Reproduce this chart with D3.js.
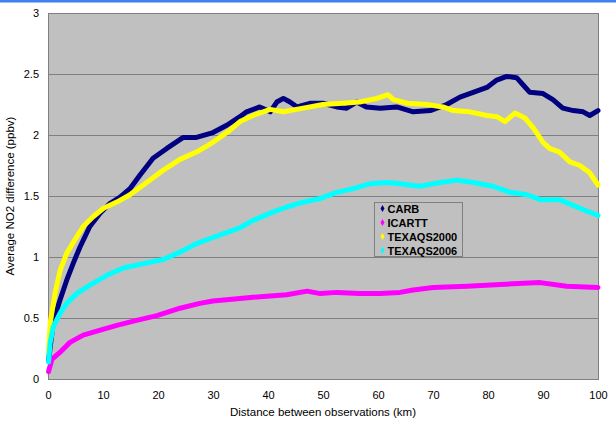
<!DOCTYPE html>
<html>
<head>
<meta charset="utf-8">
<script src="https://cdn.jsdelivr.net/npm/d3@7"></script>
<style>
  html, body { margin: 0; padding: 0; background: #ffffff; }
  svg { display: block; font-family: "Liberation Sans", Arial, sans-serif; }
</style>
</head>
<body>
<svg id="chart" width="616" height="431"></svg>
<script>
// Distance between observations (km) and average NO2 difference (ppbv) per campaign
const carbKm  = [0.1, 0.5, 1, 2.2, 3.4, 4.6, 5.8, 7.6, 9.5, 11.3, 13.1, 14.9, 16.7, 19.1, 21.6, 24.6, 27, 30, 32.5, 34.9, 36.1, 38.5, 40.4, 41.6, 42.8, 44, 45.3, 47.6, 50, 52.5, 54.3, 56.1, 57.9, 60.4, 63.4, 66.4, 69.5, 72.5, 74.9, 77.3, 79.8, 81.6, 83.4, 85.2, 86.4, 87.6, 90, 91.8, 93.6, 95.5, 97.3, 98.5, 100];
const carbNo2 = [0.15, 0.3, 0.48, 0.65, 0.81, 0.95, 1.08, 1.25, 1.36, 1.44, 1.49, 1.56, 1.67, 1.81, 1.89, 1.98, 1.98, 2.02, 2.08, 2.15, 2.19, 2.23, 2.19, 2.27, 2.30, 2.27, 2.23, 2.26, 2.26, 2.23, 2.22, 2.27, 2.23, 2.22, 2.23, 2.19, 2.20, 2.25, 2.31, 2.35, 2.39, 2.45, 2.48, 2.47, 2.41, 2.35, 2.34, 2.29, 2.22, 2.20, 2.19, 2.16, 2.20];

const icarttKm  = [0.1, 0.7, 2.2, 4, 6.4, 9.5, 12.5, 16.1, 19.8, 24, 27.6, 30, 34.9, 37.3, 43.4, 47.1, 49.5, 52.5, 56.7, 60.4, 64, 66.4, 70, 76.2, 84.5, 89.5, 94.3, 100];
const icarttNo2 = [0.06, 0.16, 0.22, 0.30, 0.36, 0.40, 0.44, 0.48, 0.52, 0.58, 0.62, 0.64, 0.66, 0.67, 0.69, 0.72, 0.70, 0.71, 0.70, 0.70, 0.71, 0.73, 0.75, 0.76, 0.78, 0.79, 0.76, 0.75];

const texaqs2000Km  = [0.1, 0.4, 1.27, 2.2, 3.4, 4.6, 6.4, 8.2, 10.1, 12.5, 14.9, 16.7, 18.5, 20.9, 24, 27, 30, 33.1, 34.9, 37.3, 40.4, 42.8, 46.4, 50, 53.6, 56.7, 59.8, 61.8, 62.8, 65.3, 68.9, 71.8, 73.7, 76.7, 79.8, 81.6, 83.1, 84.9, 86.7, 88.2, 90, 91.2, 93, 94.9, 96.7, 98.5, 100];
const texaqs2000No2 = [0.22, 0.46, 0.70, 0.89, 1.03, 1.12, 1.25, 1.33, 1.40, 1.45, 1.51, 1.57, 1.63, 1.71, 1.80, 1.86, 1.94, 2.04, 2.11, 2.16, 2.21, 2.19, 2.22, 2.25, 2.26, 2.27, 2.30, 2.33, 2.29, 2.26, 2.25, 2.23, 2.20, 2.19, 2.16, 2.15, 2.11, 2.18, 2.14, 2.06, 1.94, 1.89, 1.86, 1.78, 1.75, 1.69, 1.59];

const texaqs2006Km  = [0.1, 0.4, 0.97, 2.2, 3.4, 5.2, 7.6, 10.7, 13.7, 16.7, 20.9, 24, 27, 30, 33.1, 34.9, 37.3, 40.4, 43.4, 46.4, 49.5, 52.5, 55.5, 58.5, 61.6, 64, 67.6, 71.3, 74.4, 77.3, 80.9, 84, 87.1, 89.5, 93, 96.7, 100];
const texaqs2006No2 = [0.14, 0.3, 0.43, 0.54, 0.62, 0.70, 0.77, 0.85, 0.91, 0.94, 0.98, 1.04, 1.11, 1.16, 1.21, 1.24, 1.30, 1.36, 1.41, 1.45, 1.48, 1.53, 1.56, 1.60, 1.61, 1.60, 1.58, 1.61, 1.63, 1.61, 1.58, 1.53, 1.51, 1.47, 1.47, 1.40, 1.34];

const seriesNames = ["CARB", "ICARTT", "TEXAQS2000", "TEXAQS2006"];
const seriesColors = ["#000080", "#ff00ff", "#ffff00", "#00ffff"];
const xTicks = [0, 10, 20, 30, 40, 50, 60, 70, 80, 90, 100];
const yTicks = [0, 0.5, 1, 1.5, 2, 2.5, 3];

const series = [
  { name: seriesNames[0], color: seriesColors[0], km: carbKm, no2: carbNo2 },
  { name: seriesNames[1], color: seriesColors[1], km: icarttKm, no2: icarttNo2 },
  { name: seriesNames[2], color: seriesColors[2], km: texaqs2000Km, no2: texaqs2000No2 },
  { name: seriesNames[3], color: seriesColors[3], km: texaqs2006Km, no2: texaqs2006No2 }
];

const svg = d3.select("#chart");
const plot = { left: 48, right: 598, top: 13, bottom: 379 };

const x = d3.scaleLinear().domain([0, 100]).range([plot.left, plot.right]);
const y = d3.scaleLinear().domain([0, 3]).range([plot.bottom, plot.top]);

// blue strip along the top edge
svg.append("rect").attr("x", 0).attr("y", 0).attr("width", 616).attr("height", 2.5).attr("fill", "#3f80ee");

// plot background
svg.append("rect")
  .attr("x", plot.left).attr("y", plot.top)
  .attr("width", plot.right - plot.left).attr("height", plot.bottom - plot.top)
  .attr("fill", "#c0c0c0");

// horizontal gridlines
svg.append("g").selectAll("line").data(yTicks).join("line")
  .attr("x1", plot.left).attr("x2", plot.right)
  .attr("y1", d => Math.round(y(d)) + 0.5).attr("y2", d => Math.round(y(d)) + 0.5)
  .attr("stroke", "#808080").attr("stroke-width", 1);

// plot frame
svg.append("rect")
  .attr("x", plot.left + 0.5).attr("y", plot.top + 0.5)
  .attr("width", plot.right - plot.left).attr("height", plot.bottom - plot.top)
  .attr("fill", "none").attr("stroke", "#808080");

// axes (labels only)
const xAxis = d3.axisBottom(x).tickValues(xTicks).tickSize(0).tickPadding(12).tickFormat(d3.format("d"));
const gx = svg.append("g").attr("transform", `translate(0,${plot.bottom})`).call(xAxis);
gx.select(".domain").remove();
gx.selectAll("text").attr("font-size", 11).attr("fill", "#000").attr("font-family", "Liberation Sans, Arial, sans-serif");

const yAxis = d3.axisLeft(y).tickValues(yTicks).tickSize(0).tickPadding(9).tickFormat(d => String(d));
const gy = svg.append("g").attr("transform", `translate(${plot.left},0)`).call(yAxis);
gy.select(".domain").remove();
gy.selectAll("text").attr("font-size", 11).attr("fill", "#000").attr("font-family", "Liberation Sans, Arial, sans-serif");

// series lines
const line = d3.line().x(d => x(d[0])).y(d => y(d[1]));
svg.append("g").selectAll("path").data(series).join("path")
  .attr("d", s => line(s.km.map((k, i) => [k, s.no2[i]])))
  .attr("fill", "none")
  .attr("stroke", s => s.color)
  .attr("stroke-width", 5)
  .attr("stroke-linejoin", "round")
  .attr("stroke-linecap", "round");

// axis titles
svg.append("text")
  .attr("x", (plot.left + plot.right) / 2).attr("y", 416)
  .attr("text-anchor", "middle").attr("font-size", 11.5)
  .text("Distance between observations (km)");

svg.append("text")
  .attr("transform", `translate(14,${(plot.top + plot.bottom) / 2}) rotate(-90)`)
  .attr("text-anchor", "middle").attr("font-size", 11.5)
  .text("Average NO2 difference (ppbv)");

// legend
const legend = svg.append("g").attr("transform", "translate(374.5,202.5)");
legend.append("rect").attr("width", 88).attr("height", 54)
  .attr("fill", "#c0c0c0").attr("stroke", "#808080");
const item = legend.selectAll("g.item").data(series).join("g")
  .attr("class", "item")
  .attr("transform", (d, i) => `translate(0,${6 + i * 14})`);
item.append("path")
  .attr("d", d3.symbol(d3.symbolDiamond, 14))
  .attr("transform", "translate(8,0)")
  .attr("fill", d => d.color);
item.append("text")
  .attr("x", 13).attr("y", 4)
  .attr("font-size", 11).attr("font-weight", "bold")
  .text(d => d.name);
</script>
</body>
</html>
